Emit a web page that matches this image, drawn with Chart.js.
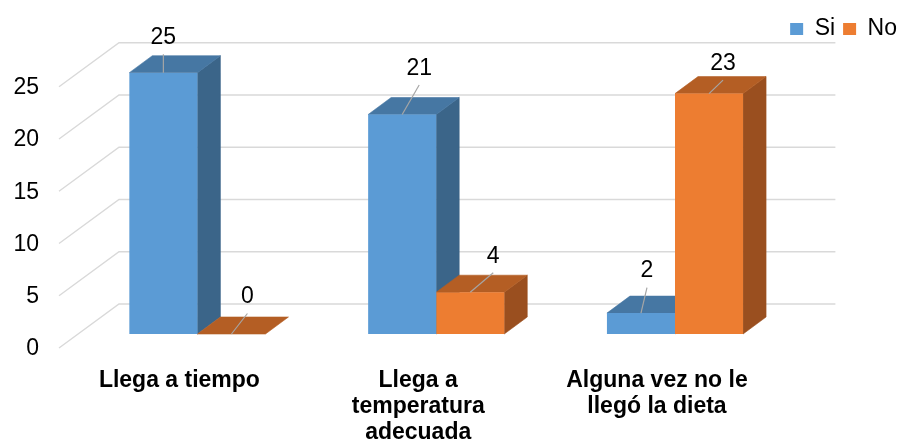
<!DOCTYPE html>
<html>
<head>
<meta charset="utf-8">
<script src="https://cdn.jsdelivr.net/npm/chart.js@4"></script>
<style>
  html, body { margin: 0; padding: 0; background: #fff; overflow: hidden; }
  canvas { display: block; }
</style>
</head>
<body>
<canvas id="chart" width="901" height="439"></canvas>
<script>
// ---- data ----
const categories = [
  ['Llega a tiempo'],
  ['Llega a', 'temperatura', 'adecuada'],
  ['Alguna vez no le', 'llegó la dieta']
];
const seriesNames = ['Si', 'No'];
const siValues = [25, 21, 2];
const noValues = [0, 4, 23];
const yTicks = [0, 5, 10, 15, 20, 25];

// where each value label sits, relative to the top-front centre of its bar
const siLabelNudge = [[0, -35], [17, -46], [6, -42]];
const noLabelNudge = [[16, -37], [23, -36], [14, -30]];

// ---- look ----
const FONT = "'Liberation Sans', Arial, Helvetica, sans-serif";
const shades = [
  { front: '#5B9BD5', top: '#4677A3', side: '#3B6589' },
  { front: '#ED7D31', top: '#B45E24', side: '#9A4F1F' }
];
// oblique depth offsets measured from the plane of the bar fronts
const BAR_BACK = [23, -17];
const WALL_FRONT = [-19, 14];
const WALL_BACK = [41, -30];

const PLOT_TOP = 72.7;      // pixel of the top tick on the bar-front plane
const PLOT_LEFT = 78;
const PLOT_RIGHT = 794.4;
const PLOT_BOTTOM = 334;
const PAD_TOP = 9.5;
const PAD_RIGHT = -4;

Chart.defaults.font.family = FONT;
Chart.defaults.font.size = 23;
Chart.defaults.color = '#000';

function fillPoly(ctx, pts, color) {
  ctx.beginPath();
  ctx.moveTo(pts[0][0], pts[0][1]);
  for (let k = 1; k < pts.length; k++) ctx.lineTo(pts[k][0], pts[k][1]);
  ctx.closePath();
  ctx.fillStyle = color;
  ctx.strokeStyle = color;
  ctx.lineWidth = 0.6;
  ctx.fill();
  ctx.stroke();
}

// walls, bar tops and bar sides
const boxes3d = {
  id: 'boxes3d',
  beforeDatasetsDraw(chart) {
    const { ctx, chartArea: a, scales: { y } } = chart;
    ctx.save();
    ctx.strokeStyle = '#D9D9D9';
    ctx.lineWidth = 1.4;
    y.ticks.forEach(t => {
      const py = y.getPixelForValue(t.value);
      ctx.beginPath();
      ctx.moveTo(a.left + WALL_FRONT[0], py + WALL_FRONT[1]);
      ctx.lineTo(a.left + WALL_BACK[0], py + WALL_BACK[1]);
      ctx.lineTo(a.right + WALL_BACK[0], py + WALL_BACK[1]);
      ctx.stroke();
    });
    const metas = chart.data.datasets.map((d, i) => chart.getDatasetMeta(i));
    for (let i = 0; i < chart.data.labels.length; i++) {
      metas.forEach((m, di) => {
        const bar = m.data[i];
        const half = bar.width / 2;
        const x0 = bar.x - half, x1 = bar.x + half;
        const top = bar.y, base = bar.base;
        const [dx, dy] = BAR_BACK;
        if (base - top > 0.5) {
          fillPoly(ctx, [[x1, top], [x1 + dx, top + dy], [x1 + dx, base + dy], [x1, base]], shades[di].side);
        }
        fillPoly(ctx, [[x0, top], [x1, top], [x1 + dx, top + dy], [x0 + dx, top + dy]], shades[di].top);
      });
    }
    ctx.restore();
  },
  afterDatasetsDraw(chart) {
    const { ctx } = chart;
    const nudges = [siLabelNudge, noLabelNudge];
    ctx.save();
    ctx.font = '23px ' + FONT;
    ctx.textAlign = 'center';
    ctx.textBaseline = 'middle';
    chart.data.datasets.forEach((ds, di) => {
      const meta = chart.getDatasetMeta(di);
      meta.data.forEach((bar, i) => {
        const [nx, ny] = nudges[di][i];
        const lx = bar.x + nx, ly = bar.y + ny;
        ctx.strokeStyle = '#A6A6A6';
        ctx.lineWidth = 1.2;
        ctx.beginPath();
        ctx.moveTo(bar.x, bar.y);
        ctx.lineTo(lx, ly + 16.5);
        ctx.stroke();
        ctx.fillStyle = '#000';
        ctx.fillText(String(ds.data[i]), lx, ly);
      });
    });
    ctx.restore();
  }
};

new Chart(document.getElementById('chart'), {
  type: 'bar',
  data: {
    labels: categories,
    datasets: [
      {
        label: seriesNames[0],
        data: siValues,
        backgroundColor: shades[0].front,
        borderColor: shades[0].front,
        borderWidth: 0,
        categoryPercentage: 0.57,
        barPercentage: 1
      },
      {
        label: seriesNames[1],
        data: noValues,
        backgroundColor: shades[1].front,
        borderColor: shades[1].front,
        borderWidth: 0,
        categoryPercentage: 0.57,
        barPercentage: 1
      }
    ]
  },
  options: {
    responsive: false,
    animation: false,
    events: [],
    layout: { padding: { top: PAD_TOP, right: PAD_RIGHT, left: 0, bottom: 0 } },
    plugins: {
      legend: {
        position: 'top',
        align: 'end',
        labels: {
          boxWidth: 13,
          boxHeight: 12,
          padding: 8,
          color: '#000',
          font: { size: 23 }
        }
      },
      tooltip: { enabled: false }
    },
    scales: {
      x: {
        offset: true,
        grid: { display: false, drawTicks: false },
        border: { display: false },
        ticks: {
          autoSkip: false,
          maxRotation: 0,
          padding: 33,
          labelOffset: -18,
          color: '#000',
          font: { size: 23, weight: 'bold', lineHeight: 1.15 }
        },
        afterFit: s => { s.height = 439 - PLOT_BOTTOM; }
      },
      xTop: {
        type: 'category',
        position: 'top',
        grid: { display: false, drawTicks: false },
        border: { display: false },
        ticks: { display: false },
        afterFit: s => {
          const lg = s.chart.legend;
          s.height = Math.max(0, PLOT_TOP - PAD_TOP - (lg ? lg.height : 41));
        }
      },
      y: {
        min: 0,
        max: 25,
        grid: { display: false, drawTicks: false },
        border: { display: false },
        ticks: {
          padding: 39,
          labelOffset: 15,
          color: '#000',
          font: { size: 23 }
        },
        afterBuildTicks: s => { s.ticks = yTicks.map(v => ({ value: v })); },
        afterFit: s => { s.width = PLOT_LEFT; }
      },
      yRight: {
        type: 'linear',
        position: 'right',
        grid: { display: false, drawTicks: false },
        border: { display: false },
        ticks: { display: false },
        afterFit: s => { s.width = 901 - PAD_RIGHT - PLOT_RIGHT; }
      }
    }
  },
  plugins: [boxes3d]
});
</script>
</body>
</html>
